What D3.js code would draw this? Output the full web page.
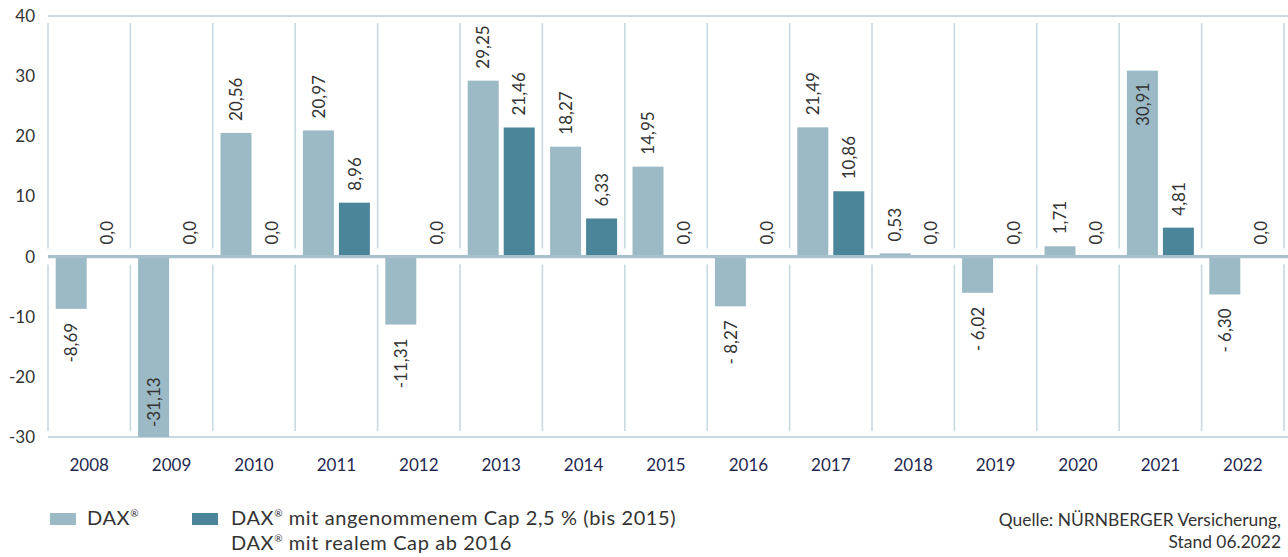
<!DOCTYPE html>
<html><head><meta charset="utf-8">
<script src="https://cdn.jsdelivr.net/npm/d3@7"></script>
<style>
html,body{margin:0;padding:0;background:#fff;}
svg{display:block;font-family:Lato, "Open Sans", sans-serif;}
</style></head>
<body>
<svg id="c" width="1288" height="557"></svg>
<script>
const years = ["2008","2009","2010","2011","2012","2013","2014","2015","2016","2017","2018","2019","2020","2021","2022"];
const daxValues = [-8.69,-31.13,20.56,20.97,-11.31,29.25,18.27,14.95,-8.27,21.49,0.53,-6.02,1.71,30.91,-6.30];
const capValues = [0,0,0,8.96,0,21.46,6.33,0,0,10.86,0,0,0,4.81,0];
const daxLabels = ["-8,69","-31,13","20,56","20,97","-11,31","29,25","18,27","14,95","- 8,27","21,49","0,53","- 6,02","1,71","30,91","- 6,30"];
const capLabels = ["0,0","0,0","0,0","8,96","0,0","21,46","6,33","0,0","0,0","10,86","0,0","0,0","0,0","4,81","0,0"];
const yTicks = [40,30,20,10,0,-10,-20,-30];
const seriesKeys = ["dax","cap"];

const svg = d3.select("#c");
const L = 48, R = 1284, T = 16, B = 437;
const x = d3.scaleBand().domain(years).range([L, R]).paddingInner(0).paddingOuter(0);
const xs = d3.scaleBand().domain(seriesKeys).range([0, x.bandwidth()]).paddingInner(0.139).paddingOuter(0.214);
const y = d3.scaleLinear().domain([-30, 40]).range([B, T]);
const colors = {dax:"#9cb9c6", cap:"#4a8599"};
const lineCol = "#c8d9e1";

// separators
const sepX = years.map(d => x(d)).concat([R]);
const seps = svg.append("g");
sepX.forEach(sx => {
  seps.append("line").attr("x1", sx).attr("x2", sx).attr("y1", y(40)+7).attr("y2", y(0)-8)
    .attr("stroke", lineCol).attr("stroke-width", 1.6);
  seps.append("line").attr("x1", sx).attr("x2", sx).attr("y1", y(0)+8).attr("y2", y(-30)-6)
    .attr("stroke", lineCol).attr("stroke-width", 1.6);
});
// top and bottom lines
svg.append("line").attr("x1", L).attr("x2", 1288).attr("y1", y(40)).attr("y2", y(40)).attr("stroke", lineCol).attr("stroke-width", 2);
svg.append("line").attr("x1", L).attr("x2", 1288).attr("y1", y(-30)).attr("y2", y(-30)).attr("stroke", lineCol).attr("stroke-width", 2);

// bars
const data = [];
years.forEach((yr, i) => {
  data.push({yr, key:"dax", v: daxValues[i], label: daxLabels[i]});
  data.push({yr, key:"cap", v: capValues[i], label: capLabels[i]});
});
const clampV = v => Math.max(-30, Math.min(40, v));
svg.append("g").selectAll("rect").data(data.filter(d => d.v !== 0)).join("rect")
  .attr("x", d => x(d.yr) + xs(d.key))
  .attr("width", xs.bandwidth())
  .attr("y", d => y(Math.max(0, clampV(d.v))))
  .attr("height", d => Math.abs(y(clampV(d.v)) - y(0)))
  .attr("fill", d => colors[d.key]);

// zero line
svg.append("line").attr("x1", L).attr("x2", 1288).attr("y1", y(0)).attr("y2", y(0)).attr("stroke", "#a6c0cc").attr("stroke-width", 3.2);

// value labels
const lab = svg.append("g").attr("font-size", 17).attr("fill", "#333");
data.forEach(d => {
  const cx = x(d.yr) + xs(d.key) + xs.bandwidth()/2;
  const t = lab.append("text").attr("dy", "0.36em").text(d.label);
  const len = t.node().getComputedTextLength();
  let py, anchor;
  if (d.v >= 0) {
    py = y(d.v) - 12; anchor = "start";
    if (py - len < y(40) + 8) { py = y(d.v) + 12; anchor = "end"; }
  } else {
    if (d.v < -30) { py = y(-30) - 10; anchor = "start"; }
    else { py = y(d.v) + 14; anchor = "end"; }
  }
  t.attr("text-anchor", anchor).attr("transform", `translate(${cx},${py}) rotate(-90)`);
});

// y axis labels
svg.append("g").selectAll("text").data(yTicks).join("text")
  .attr("x", 35).attr("y", d => y(d)).attr("dy", "0.35em").attr("text-anchor", "end")
  .attr("font-size", 17).attr("fill", "#333").text(d => d);

// x axis labels
svg.append("g").selectAll("text").data(years).join("text")
  .attr("x", d => x(d) + x.bandwidth()/2).attr("y", 471).attr("text-anchor", "middle")
  .attr("font-size", 17).attr("fill", "#1f2850").text(d => d);

// legend
const lg = svg.append("g").attr("font-size", 20).attr("letter-spacing", 0.6).attr("fill", "#333");
lg.append("rect").attr("x", 50).attr("y", 513).attr("width", 26).attr("height", 12).attr("fill", colors.dax);
const t1 = lg.append("text").attr("x", 87).attr("y", 525);
t1.append("tspan").text("DAX");
t1.append("tspan").attr("font-size", 10).attr("dy", -8).text("®");
lg.append("rect").attr("x", 192).attr("y", 513).attr("width", 26).attr("height", 12).attr("fill", colors.cap);
const t2 = lg.append("text").attr("x", 231).attr("y", 525);
t2.append("tspan").text("DAX");
t2.append("tspan").attr("font-size", 10).attr("dy", -8).text("®");
t2.append("tspan").attr("dy", 8).text(" mit angenommenem Cap 2,5 % (bis 2015)");
const t3 = lg.append("text").attr("x", 231).attr("y", 550);
t3.append("tspan").text("DAX");
t3.append("tspan").attr("font-size", 10).attr("dy", -8).text("®");
t3.append("tspan").attr("dy", 8).text(" mit realem Cap ab 2016");

// source
const src = svg.append("g").attr("font-size", 17.4).attr("fill", "#333").attr("text-anchor", "end");
src.append("text").attr("x", 1281).attr("y", 526).text("Quelle: NÜRNBERGER Versicherung,");
src.append("text").attr("x", 1281).attr("y", 548).text("Stand 06.2022");
</script>
</body></html>
